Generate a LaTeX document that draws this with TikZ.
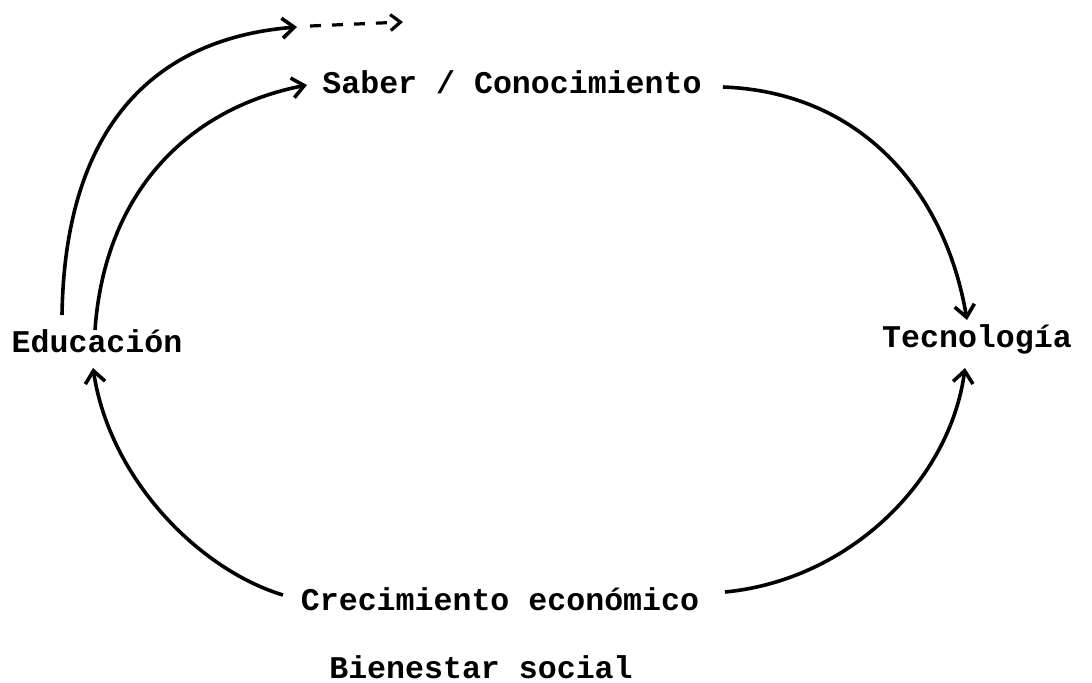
\documentclass[tikz,border=0pt]{standalone}
\usepackage{fontspec}
\setmonofont{Liberation Mono}
\usetikzlibrary{arrows.meta,calc}
\begin{document}
\begin{tikzpicture}[x=0.5pt,y=-0.5pt,
  lbl/.style={anchor=base,inner sep=0pt,font=\ttfamily\bfseries\fontsize{15.8pt}{18pt}\selectfont},
  conn/.style={line width=1.8pt,-{Straight Barb[length=6pt,width=10pt,line width=1.8pt]}},
  dashconn/.style={line width=1.6pt,dash pattern=on 5.5pt off 5.5pt,-{Straight Barb[length=5pt,width=8pt,line width=1.6pt]}}]
\useasboundingbox (0,0) rectangle (1092,682);
\node[lbl] (sab) at (512,93) {Saber / Conocimiento};
\node[lbl] (edu) at (97,352) {Educación};
\node[lbl] (tec) at (977,347) {Tecnología};
\node[lbl] (cre) at (500,610) {Crecimiento económico};
\node[lbl] (bie) at (481,678) {Bienestar social};
\coordinate (t1) at ($(sab.base)+(-215,-66)$);
\coordinate (t2) at ($(sab.base)+(-109,-71)$);
% outer arc to the dashed continuation
\draw[conn] ($(edu.base)+(-35,-37)$) .. controls (65,120) and (160,38) .. (t1);
\draw[dashconn] ($(t1)+(13,-1)$) -- (t2);
% Educacion -> Saber
\draw[conn] ($(edu.base)+(-2,-22)$) .. controls (105,190) and (190,108) .. ($(sab.base)+(-205,-8)$);
% Saber -> Tecnologia
\draw[conn] ($(sab.base)+(211,-6)$) .. controls (860,92) and (945,190) .. ($(tec.base)+(-10,-27)$);
% Crecimiento -> Educacion
\draw[conn] ($(cre.base)+(-217,-15)$) .. controls (200,570) and (110,480) .. ($(edu.base)+(-4,16)$);
% Crecimiento -> Tecnologia
\draw[conn] ($(cre.base)+(225,-18)$) .. controls (850,580) and (950,480) .. ($(tec.base)+(-12,21)$);
\end{tikzpicture}
\end{document}
